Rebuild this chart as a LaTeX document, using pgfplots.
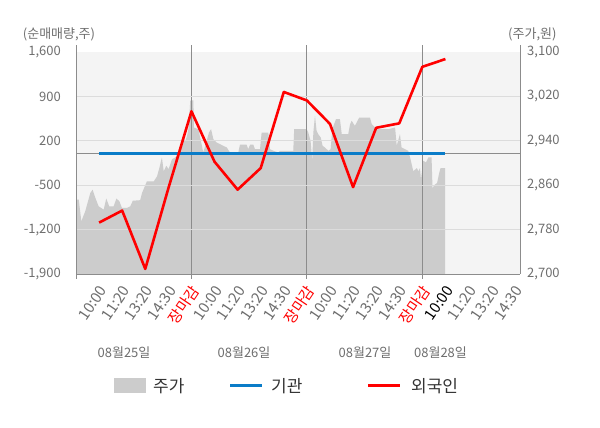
\documentclass[border=0pt]{standalone}
\usepackage{pgfplots}
\pgfplotsset{compat=1.18}
\usepackage{fontspec}
\setmainfont{Noto Sans CJK KR}
\definecolor{bgc}{HTML}{F4F4F4}
\definecolor{areagray}{HTML}{CCCCCC}
\definecolor{gridlight}{HTML}{DCDCDC}
\definecolor{axisgray}{HTML}{8C8C8C}
\definecolor{txtgray}{HTML}{6E6E6E}
\definecolor{blueline}{HTML}{0A7CC8}
\definecolor{legtxt}{HTML}{333333}
\definecolor{redline}{HTML}{FF0000}
\newcommand{\fs}{\fontsize{13bp}{15bp}\selectfont}
\newcommand{\fx}{\fontsize{15bp}{17bp}\selectfont}
\newcommand{\fl}{\fontsize{17bp}{20bp}\selectfont}
\begin{document}
\begin{tikzpicture}
\useasboundingbox (0,0) rectangle (600bp,428bp);
% price (right axis)
\begin{axis}[
  at={(76bp,154bp)}, anchor=south west, scale only axis,
  width=444bp, height=229bp,
  xmin=0, xmax=19.23, ymin=2700, ymax=3112.7,
  axis x line=none, axis y line*=right,
  axis line style={draw=axisgray,-},
  xtick=\empty,
  ytick={2700,2780,2860,2940,3020,3100},
  yticklabels={{2,700},{2,780},{2,860},{2,940},{3,020},{3,100}},
  yticklabel style={font=\fs, text=txtgray, anchor=west, inner sep=0pt, xshift=7bp},
  major tick length=0pt,
]
\fill[bgc] (axis cs:0,2700) rectangle (axis cs:19.23,3100);
\addplot[fill=areagray, draw=none] table {
x y
0 2700
0 2834
0.12 2834
0.23 2795
0.40 2813
0.52 2831
0.62 2846
0.72 2852
0.84 2837
0.98 2822
1.20 2816
1.31 2836
1.44 2822
1.63 2822
1.75 2836
1.88 2831
1.99 2819
2.21 2819
2.35 2822
2.46 2832
2.78 2833
2.86 2846
3.07 2867
3.37 2867
3.51 2876
3.61 2891
3.72 2910
3.80 2885
3.91 2895
4.01 2889
4.16 2907
4.30 2910
4.47 2919
4.59 2940
4.73 2940
4.81 2949
4.88 2964
4.95 3013
5.08 3013
5.11 2964
5.30 2961
5.44 2934
5.51 2919
5.62 2934
5.76 2955
5.85 2961
5.95 2943
6.09 2937
6.24 2934
6.38 2931
6.53 2928
6.67 2919
7.03 2919
7.10 2933
7.39 2933
7.46 2925
7.54 2933
7.68 2933
7.75 2925
7.97 2925
8.04 2955
8.33 2955
8.40 2925
8.55 2922
8.76 2919
8.84 2922
9.41 2922
9.45 2961
9.99 2961
10.06 2955
10.16 2940
10.23 2904
10.28 2955
10.35 2985
10.42 2958
10.49 2952
10.60 2946
10.68 2931
10.78 2928
10.93 2922
11.03 2925
11.10 2961
11.26 2979
11.43 2979
11.51 2952
11.79 2952
11.87 2970
11.94 2976
12.08 2967
12.23 2979
12.27 2982
12.73 2982
12.81 2970
13.02 2961
13.53 2961
13.82 2964
13.89 2931
14.03 2952
14.10 2928
14.25 2925
14.39 2922
14.47 2910
14.61 2885
14.76 2891
14.83 2885
14.90 2891
14.94 2870
15.04 2904
15.16 2901
15.26 2910
15.40 2910
15.44 2855
15.54 2861
15.64 2864
15.73 2882
15.79 2891
15.99 2891
15.99 2700
};
\end{axis}
% net buying (left axis)
\begin{axis}[
  at={(76bp,154bp)}, anchor=south west, scale only axis,
  width=444bp, height=229bp,
  xmin=0, xmax=19.23, ymin=-1900, ymax=1710.4,
  axis x line*=bottom, axis y line*=left,
  axis line style={draw=axisgray,-},
  xtick={0,5,10,15}, xticklabels={,,,},
  xmajorgrids, major x grid style={draw=axisgray, line width=0.8bp},
  xtick style={draw=axisgray, line width=0.8bp},
  tick align=outside, major tick length=5bp,
  ytick style={draw=none},
  ytick={-1200,-500,200,900},
  yticklabels={{-1,200},{-500},{200},{900}},
  ymajorgrids, major y grid style={draw=gridlight, line width=0.8bp},
  extra y ticks={-1900,1600}, extra y tick labels={{-1,900},{1,600}},
  extra y tick style={grid=none},
  yticklabel style={font=\fs, text=txtgray, anchor=east, inner sep=0pt, xshift=-10bp},
  extra x ticks={1,2,3,4,5,6,7,8,9,10,11,12,13,14,15,16,17,18,19},
  extra x tick labels={10:00,11:20,13:20,14:30,\textcolor{red}{장마감},
    10:00,11:20,13:20,14:30,\textcolor{red}{장마감},
    10:00,11:20,13:20,14:30,\textcolor{red}{장마감},
    \textcolor{black}{10:00},11:20,13:20,14:30},
  extra x tick style={grid=none, major tick length=0pt,
    xticklabel style={font=\fx, text=txtgray, inner sep=0pt, yshift=-13.5bp, xshift=4bp, rotate=56, anchor=east}},
  clip=false,
]
\draw[axisgray, line width=0.8bp] (axis cs:0,0) -- (axis cs:19.23,0);
\addplot[blueline, line width=3bp] coordinates {(1,0)(2,0)(3,0)(4,0)(5,0)(6,0)(7,0)(8,0)(9,0)(10,0)(11,0)(12,0)(13,0)(14,0)(15,0)(16,0)};
\addplot[redline, line width=2.6bp, line join=round] coordinates {
(1,-1090)(2,-900)(3,-1820)(4,-550)(5,665)(6,-130)(7,-570)(8,-230)
(9,970)(10,836)(11,466)(12,-530)(13,405)(14,475)(15,1366)(16,1489)};
\end{axis}
% titles
\node[anchor=west, inner sep=0pt, font=\fs, text=txtgray] at (22.7bp,394bp) {(순매매량,주)};
\node[anchor=west, inner sep=0pt, font=\fs, text=txtgray] at (508bp,394bp) {(주가,원)};
% dates
\node[inner sep=0pt, font=\fs, text=txtgray] at (124bp,75bp) {08월25일};
\node[inner sep=0pt, font=\fs, text=txtgray] at (244bp,75bp) {08월26일};
\node[inner sep=0pt, font=\fs, text=txtgray] at (365bp,75bp) {08월27일};
\node[inner sep=0pt, font=\fs, text=txtgray] at (440.5bp,75bp) {08월28일};
% legend
\fill[areagray] (114bp,35bp) rectangle (146bp,50bp);
\node[anchor=west, inner sep=0pt, font=\fl, text=legtxt] at (153bp,42bp) {주가};
\draw[blueline, line width=3bp] (230bp,42bp) -- (262bp,42bp);
\node[anchor=west, inner sep=0pt, font=\fl, text=legtxt] at (271bp,42bp) {기관};
\draw[redline, line width=3bp] (368bp,42bp) -- (400bp,42bp);
\node[anchor=west, inner sep=0pt, font=\fl, text=legtxt] at (411bp,42bp) {외국인};
\end{tikzpicture}
\end{document}
